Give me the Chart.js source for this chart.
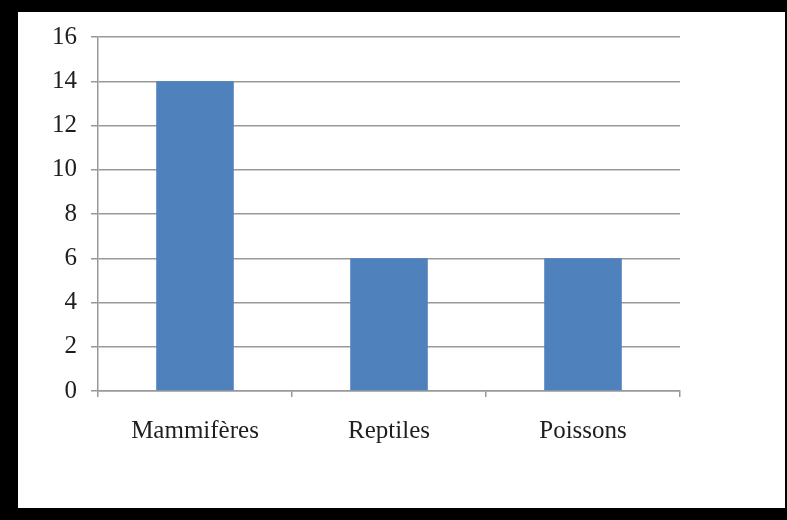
<!DOCTYPE html>
<html>
<head>
<meta charset="utf-8">
<script src="https://cdn.jsdelivr.net/npm/chart.js@4/dist/chart.umd.min.js"></script>
<style>
  html, body { margin: 0; padding: 0; background: #000; }
  body { width: 787px; height: 520px; position: relative; overflow: hidden; }
  #panel { position: absolute; left: 18px; top: 12px; width: 767px; height: 496px; background: #fff; }
  #c { display: block; }
</style>
</head>
<body>
<div id="panel"><canvas id="c" width="767" height="496"></canvas></div>
<script>
const categories = ["Mammifères", "Reptiles", "Poissons"];
const counts = [14, 6, 6];
const yTicks = [0, 2, 4, 6, 8, 10, 12, 14, 16];

const serif = "'Liberation Serif', 'Times New Roman', serif";

new Chart(document.getElementById('c'), {
  type: 'bar',
  data: {
    labels: categories,
    datasets: [{
      data: counts,
      backgroundColor: '#4F81BD',
      borderWidth: 0,
      categoryPercentage: 1,
      barPercentage: 0.4
    }]
  },
  options: {
    responsive: false,
    animation: false,
    layout: { padding: { top: 25, right: 105, left: 0, bottom: 0 } },
    plugins: { legend: { display: false }, tooltip: { enabled: false } },
    scales: {
      x: {
        offset: true,
        grid: {
          offset: true,
          drawOnChartArea: false,
          drawTicks: true,
          tickLength: 6,
          color: '#999',
          lineWidth: 1.5
        },
        border: { display: true, color: '#999', width: 1.5 },
        ticks: {
          color: '#1e1e1e',
          font: { family: serif, size: 25 },
          padding: 19,
          maxRotation: 0
        },
        afterFit: s => { s.height = 117; }
      },
      y: {
        min: 0,
        max: 16,
        afterBuildTicks: s => { s.ticks = yTicks.map(v => ({ value: v })); },
        grid: {
          color: '#999',
          lineWidth: 1.5,
          drawTicks: true,
          tickLength: 7
        },
        border: { display: true, color: '#999', width: 1.5 },
        ticks: {
          color: '#1e1e1e',
          font: { family: serif, size: 25 },
          padding: 14
        },
        afterFit: s => { s.width = 80; s.paddingTop = 0; s.paddingBottom = 0; }
      }
    }
  }
});
</script>
</body>
</html>
